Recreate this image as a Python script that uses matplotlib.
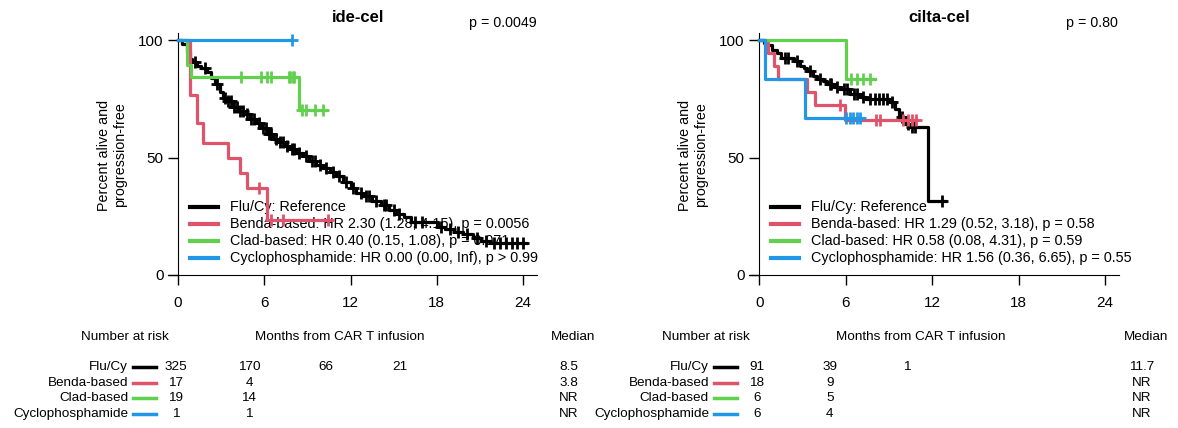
import numpy as np
import matplotlib
matplotlib.use('Agg')
import matplotlib.pyplot as plt

plt.rcParams['font.family'] = ['Liberation Sans', 'DejaVu Sans']

# R 4 palette
COLS = ['black', '#DF536B', '#61D04F', '#2297E6']
groups = ['Flu/Cy', 'Benda-based', 'Clad-based', 'Cyclophosphamide']

# ---- ide-cel (left) ----
flu_t_L = [0.3, 0.6, 0.8, 1.0, 1.3, 1.6, 2.0, 2.3, 2.6, 2.9, 3.1, 3.4, 3.8, 4.2, 4.6, 5.0, 5.4, 5.8, 6.2, 6.6,
           7.0, 7.4, 7.8, 8.2, 8.7, 9.1, 9.6, 10.1, 10.6, 11.0, 11.5, 12.0, 12.4, 12.9, 13.5, 14.1, 14.7, 15.2,
           15.7, 16.2, 18.1, 18.6, 19.2, 19.8, 20.5, 21.1, 21.7]
flu_s_L = [98.5, 95, 92, 90.5, 89, 88, 86.5, 84, 81.5, 78, 75.5, 74, 71.5, 70, 68.5, 66.5, 64.5, 62.5, 60, 58,
           56.5, 55, 53.5, 52, 50.5, 48.5, 47, 45.5, 44, 42, 39.5, 37, 35, 33.5, 31.5, 30, 27.5, 26,
           24.5, 22.7, 20.5, 19.5, 18.5, 17.5, 15.6, 14.5, 13.5]
flu_cens_L = [1.2, 1.9, 2.7, 3.3, 3.5, 3.7, 3.9, 4.1, 4.3, 4.5, 4.8, 5.1, 5.3, 5.6, 5.9, 6.1, 6.3, 6.5, 6.8,
              7.1, 7.3, 7.6, 7.9, 8.1, 8.4, 8.9, 9.3, 9.5, 9.9, 10.3, 10.8, 11.2, 11.7, 12.2, 12.7, 13.1,
              13.3, 13.8, 14.3, 14.5, 15.0, 15.4, 16.5, 17.0, 18.3, 18.9, 19.5, 20.1, 20.8, 21.4, 22.0,
              22.4, 22.8, 23.2, 23.6, 24.0]
flu_end_L = 24.2

benda_t_L = [0.85, 1.3, 1.75, 3.5, 4.3, 4.8, 6.2]
benda_s_L = [76.5, 64.7, 56.0, 49.6, 43.3, 36.9, 23.4]
benda_cens_L = [5.6, 6.5, 7.3, 10.4]
benda_end_L = 10.4

clad_t_L = [0.6, 0.9, 8.4]
clad_s_L = [89.5, 84.2, 70.2]
clad_cens_L = [4.4, 5.8, 6.2, 6.5, 7.7, 7.8, 8.0, 8.1, 8.6, 8.9, 9.5, 10.1]
clad_end_L = 10.3

cyc_t_L = []
cyc_s_L = []
cyc_cens_L = [7.9]
cyc_end_L = 7.9

# ---- cilta-cel (right) ----
flu_t_R = [0.3, 0.5, 0.9, 1.2, 1.5, 2.4, 2.8, 3.1, 3.3, 3.7, 4.0, 4.4, 4.7, 5.2, 5.6, 6.3, 7.0, 7.4,
           9.1, 9.4, 9.7, 10.1, 10.4, 11.7]
flu_s_R = [98.9, 97.8, 95.6, 94.5, 92.3, 91.2, 89.0, 87.9, 86.8, 84.6, 83.5, 82.4, 81.3, 80.2, 79.1, 77.0,
           75.9, 74.8, 73.7, 70.5, 67.3, 64.2, 62.8, 31.4]
flu_cens_R = [1.8, 2.0, 2.6, 3.5, 4.2, 4.9, 5.0, 5.4, 5.9, 6.1, 6.6, 6.8, 7.2, 7.7, 8.0, 8.3, 8.6, 8.9,
              9.2, 9.9, 10.3, 10.6, 10.8, 12.7]
flu_end_R = 12.9

benda_t_R = [0.6, 1.0, 1.3, 3.3, 3.9, 5.95]
benda_s_R = [94.4, 88.9, 83.3, 77.8, 72.2, 66.0]
benda_cens_R = [5.6, 8.1, 8.4, 10.0, 10.3, 10.6, 10.9]
benda_end_R = 10.9

clad_t_R = [6.05]
clad_s_R = [83.3]
clad_cens_R = [6.4, 6.8, 7.2, 7.7]
clad_end_R = 8.0

cyc_t_R = [0.4, 3.2]
cyc_s_R = [83.3, 66.7]
cyc_cens_R = [6.0, 6.3, 6.5, 6.8, 7.0]
cyc_end_R = 7.2

legend_L = ['Flu/Cy: Reference',
            'Benda-based: HR 2.30 (1.28, 4.15), p = 0.0056',
            'Clad-based: HR 0.40 (0.15, 1.08), p = 0.071',
            'Cyclophosphamide: HR 0.00 (0.00, Inf), p > 0.99']
legend_R = ['Flu/Cy: Reference',
            'Benda-based: HR 1.29 (0.52, 3.18), p = 0.58',
            'Clad-based: HR 0.58 (0.08, 4.31), p = 0.59',
            'Cyclophosphamide: HR 1.56 (0.36, 6.65), p = 0.55']

risk_L = [[325, 170, 66, 21], [17, 4], [19, 14], [1, 1]]
risk_R = [[91, 39, 1], [18, 9], [6, 5], [6, 4]]
median_L = ['8.5', '3.8', 'NR', 'NR']
median_R = ['11.7', 'NR', 'NR', 'NR']

W, H = 1178, 428
fig = plt.figure(figsize=(W / 100, H / 100), dpi=100)


def fx(px):
    return px / W


def fy(py):
    return 1 - py / H


def km(ax, t, s, cens, end, color):
    xs = [0] + list(t) + [end]
    ys = [100] + list(s) + [s[-1] if len(s) else 100]
    ax.step(xs, ys, where='post', color=color, lw=2.3, zorder=3, clip_on=False)
    idx = np.searchsorted(t, cens, side='right')
    lev = np.array([100] + list(s))[idx]
    ax.plot(cens, lev, ls='none', marker='+', ms=8.5, mew=2, color=color, zorder=3, clip_on=False)


def panel(x0_px, ppm, title, pval, curves, legend, risk, medians, off, med_x):
    ax = fig.add_axes([fx(x0_px - 0.7 * ppm), fy(275), fx(25.7 * ppm), 242 / H])
    ax.set_xlim(-0.7, 25)
    ax.set_ylim(0, 103)
    for c, (t, s, cens, end) in zip(COLS, curves):
        km(ax, t, s, cens, end, c)
    for sp in ['top', 'right']:
        ax.spines[sp].set_visible(False)
    ax.spines['left'].set_position(('data', 0))
    ax.set_xticks([0, 6, 12, 18, 24])
    ax.set_yticks([0, 50, 100])
    ax.tick_params(labelsize=11, length=7, width=1)
    ax.tick_params(axis='x', pad=8)
    ax.set_facecolor('none')

    fig.text(fx(off + 180), fy(17), title, ha='center', va='center', fontsize=12, fontweight='bold')
    fig.text(fx(off + 359), fy(23), pval, ha='right', va='center', fontsize=10.3)
    fig.text(fx(off - 66), fy(155), 'Percent alive and\nprogression-free', rotation=90,
             ha='center', va='center', fontsize=10.3)

    # legend (drawn under the curves)
    for i, (c, lab) in enumerate(zip(COLS, legend)):
        yy = fy(207 + 17 * i)
        ax.plot([fx(off + 12), fx(off + 40)], [yy, yy], color=c, lw=3, transform=fig.transFigure,
                clip_on=False, zorder=1)
        ax.text(fx(off + 52), yy, lab, transform=fig.transFigure, ha='left', va='center',
                fontsize=10.4, zorder=1)

    # risk table
    fig.text(fx(off - 53), fy(337), 'Number at risk', ha='center', va='center', fontsize=9.7)
    fig.text(fx(off + 162), fy(337), 'Months from CAR T infusion', ha='center', va='center', fontsize=9.7)
    fig.text(fx(med_x), fy(337), 'Median', ha='center', va='center', fontsize=9.7)
    cols_x = [off - 2, off + 71, off + 148, off + 222]
    for i, (g, c) in enumerate(zip(groups, COLS)):
        yy = fy(367 + 15.7 * i)
        fig.text(fx(off - 50), yy, g, ha='right', va='center', fontsize=9.7)
        fig.add_artist(plt.Line2D([fx(off - 45), fx(off - 22)], [yy, yy], color=c, lw=2.5))
        for n, cx in zip(risk[i], cols_x):
            fig.text(fx(cx), yy, str(n), ha='center', va='center', fontsize=9.7)
        fig.text(fx(med_x - 4), yy, medians[i], ha='center', va='center', fontsize=9.7)
    return ax


panel(178, 14.375, 'ide-cel', 'p = 0.0049',
      [(flu_t_L, flu_s_L, flu_cens_L, flu_end_L),
       (benda_t_L, benda_s_L, benda_cens_L, benda_end_L),
       (clad_t_L, clad_s_L, clad_cens_L, clad_end_L),
       (cyc_t_L, cyc_s_L, cyc_cens_L, cyc_end_L)],
      legend_L, risk_L, median_L, 178, 573)

panel(759.3, 14.4, 'cilta-cel', 'p = 0.80',
      [(flu_t_R, flu_s_R, flu_cens_R, flu_end_R),
       (benda_t_R, benda_s_R, benda_cens_R, benda_end_R),
       (clad_t_R, clad_s_R, clad_cens_R, clad_end_R),
       (cyc_t_R, cyc_s_R, cyc_cens_R, cyc_end_R)],
      legend_R, risk_R, median_R, 759, 1146)

fig.savefig('out.png', dpi=100, facecolor='white')
